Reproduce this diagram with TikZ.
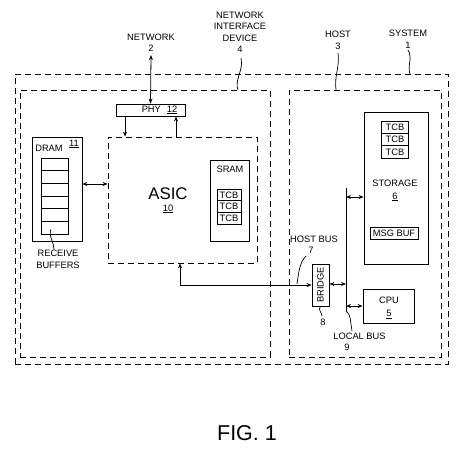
\documentclass[tikz,border=0pt]{standalone}
\usepackage{fontspec}
\setmainfont{Liberation Sans}
\usetikzlibrary{arrows.meta,calc}
\begin{document}
\begin{tikzpicture}[x=1pt,y=-1pt,
  >={Stealth[length=5pt,width=4pt]},
  line width=0.8pt,
  bx/.style n args={2}{draw, inner sep=0pt, minimum width=#1pt, minimum height=#2pt},
  dsh/.style={dash pattern=on 6pt off 4pt},
  lbl/.style={font=\fontsize{9.3}{11.5}\selectfont, align=center, inner sep=0pt},
  squig/.style={line width=0.7pt}]
\useasboundingbox (0,0) rectangle (474,455);

% outer boxes
\node[bx={433}{290}, dsh] (sys) at (231.5,219) {};
\node[bx={250}{267}, dsh] (nid) at (145,223.5) {};
\node[bx={152}{267}, dsh] (host) at (365,223.5) {};

% network interface device
\node[bx={69}{12}] (phy) at (150.5,110) {};
\node[lbl] (phyl) at (159.5,110) {PHY\hspace{6pt}\underline{12}};
\node[bx={149}{126}, dsh] (asic) at (182.5,200) {};
\node[inner sep=0pt, font=\fontsize{16.8}{18}\selectfont] (asicl) at (168,194) {ASIC};
\node[lbl] (asicn) at (168,209) {\underline{10}};

\node[bx={50}{104}] (dram) at (57,189) {};
\node[lbl] (draml) at (49,148) {DRAM};
\node[lbl] (dramn) at (74,144) {\underline{11}};
\foreach \i in {1,...,6}
  \node[bx={27}{12.667}] (buf\i) at (54.5,{158+12.667*(\i-0.5)}) {};
\node[lbl] (recv) at (58,259.5) {RECEIVE\\BUFFERS};
\coordinate (recvtop) at (54,249);

\node[bx={39}{81}] (sram) at (229.5,200.5) {};
\node[lbl] (sraml) at (230,169) {SRAM};
\node[bx={24}{11.67}, lbl] (st1) at (229,194.8) {TCB};
\node[bx={24}{11.67}, lbl] (st2) at (229,206.5) {TCB};
\node[bx={24}{11.67}, lbl] (st3) at (229,218.2) {TCB};

% host
\node[bx={64}{152}] (stor) at (396,188) {};
\node[bx={27}{12.33}, lbl] (ht1) at (395,127.2) {TCB};
\node[bx={27}{12.33}, lbl] (ht2) at (395,139.5) {TCB};
\node[bx={27}{12.33}, lbl] (ht3) at (395,151.8) {TCB};
\node[lbl] (storl) at (395,190.5) {STORAGE\\[1.5pt]\underline{6}};
\node[bx={48}{12}, lbl] (msg) at (394,233) {MSG BUF};

\node[bx={17}{42}] (bridge) at (320.5,285) {};
\node[lbl, rotate=90] (bridgel) at (320.5,285) {BRIDGE};
\node[bx={51}{34}] (cpu) at (388.5,306) {};
\node[lbl] (cpul) at (389,308) {CPU\\[1.5pt]\underline{5}};

\coordinate (bustop) at (346,188);
\coordinate (busbot) at (346,311);
\draw (bustop) -- (busbot);

% top labels
\node[lbl] (netl) at (151,43) {NETWORK\\2};
\coordinate (netend) at (151,55);
\node[lbl] (nidl) at (240,32.5) {NETWORK\\INTERFACE\\DEVICE\\4};
\node[lbl] (hostl) at (338,40.5) {HOST\\3};
\node[lbl] (sysl) at (408,39.5) {SYSTEM\\1};
\node[lbl] (hbl) at (314,245) {HOST BUS\\\hspace*{-6pt}7};
\node[lbl] (eight) at (323,322) {8};
\node[lbl] (lbl9) at (359.5,342) {LOCAL BUS\\\hspace*{-25pt}9};
\node[inner sep=0pt, font=\fontsize{21.5}{24}\selectfont] (fig) at (247,433) {FIG. 1};

% connectors
\draw[<->] (netend) -- (phy.north);
\draw[->] ([xshift=-25.5pt]phy.south) -- ([xshift=-25.5pt]phy.south |- asic.north);
\draw[<-] ([xshift=25.5pt]phy.south) -- ([xshift=25.5pt]phy.south |- asic.north);
\draw[<->] (dram.east |- 0,184) -- (asic.west |- 0,184);
\draw[<->] ([xshift=-2.5pt]asic.south) |- (bridge.west);
\draw[<->] (bridge.east |- 0,284) -- (bustop |- 0,284);
\draw[<->] (bustop |- 0,197) -- (stor.west |- 0,197);
\draw[<->] (bustop |- 0,306) -- (cpu.west |- 0,306);

% leader squiggles
\draw[squig] (buf6.center) ++(-4,2) coordinate (bq) (bq) .. controls +(-2,6) and +(0,-6) .. (recvtop);
\draw[squig] (241,58) .. controls +(3,12) and +(-4,-10) .. (238,90);
\draw[squig] (338,53) .. controls +(2,14) and +(-2,-14) .. (336,90);
\draw[squig] (408,50) .. controls +(5,8) and +(-3,-8) .. (410,74);
\draw[squig] (306,256) .. controls +(-6,6) and +(2,-14) .. (297,284);
\draw[squig] (bridge.south) .. controls +(-3,3) and +(0,-3) .. (322,316);
\draw[squig] (busbot) .. controls +(5,4) and +(-2,-12) .. (352,331);
\end{tikzpicture}
\end{document}
